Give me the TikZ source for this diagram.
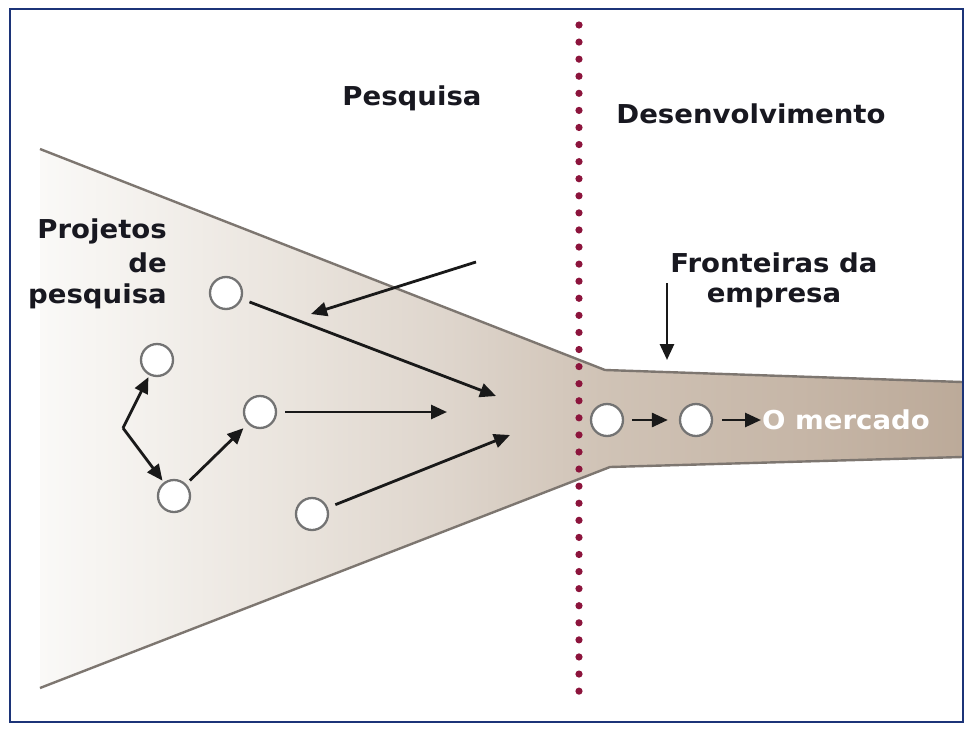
\documentclass[tikz,border=0pt]{standalone}
\usepackage{fontspec}
\setmainfont{DejaVu Sans}
\newfontfamily\lbl[FakeStretch=1.06]{DejaVu Sans}
\usetikzlibrary{arrows.meta}
\definecolor{c0}{RGB}{250,249,247}
\definecolor{c1}{RGB}{243,240,236}
\definecolor{c2}{RGB}{233,227,220}
\definecolor{c3}{RGB}{222,213,204}
\definecolor{c4}{RGB}{208,195,182}
\definecolor{c5}{RGB}{198,182,167}
\definecolor{c6}{RGB}{188,170,153}
\definecolor{edgegray}{RGB}{125,118,112}
\definecolor{framenavy}{RGB}{28,52,120}
\definecolor{dotred}{RGB}{140,20,60}
\definecolor{txt}{RGB}{24,24,32}
\definecolor{arrowc}{RGB}{25,25,25}
\definecolor{circgray}{RGB}{115,115,115}
\pgfdeclarehorizontalshading{funnelshade}{100bp}{color(0bp)=(c0); color(25bp)=(c0); color(31bp)=(c1); color(39.1bp)=(c2); color(47.2bp)=(c3); color(55.4bp)=(c4); color(66.2bp)=(c5); color(75bp)=(c6); color(100bp)=(c6)}
\tikzset{
  proj/.style={circle, draw=circgray, fill=white, line width=2.3pt, minimum size=32pt, inner sep=0pt},
  arr/.style={draw=arrowc, line width=2.8pt, -{Triangle[length=16pt,width=14pt]}},
  lab/.style={font=\lbl\bfseries\fontsize{26}{31}\selectfont, text=txt, inner sep=0pt},
  edge/.style={draw=edgegray, line width=2.4pt, line join=round}
}
\begin{document}
\begin{tikzpicture}[x=1pt,y=-1pt]
\useasboundingbox (0,0) rectangle (972,731);
\fill[white] (0,0) rectangle (972,731);
% funnel
\fill[shading=funnelshade] (40,149) -- (605,370) -- (962,382) -- (962,457) -- (610,467) -- (40,688) -- cycle;
\draw[edge] (40,149) -- (605,370) -- (962,382);
\draw[edge] (40,688) -- (610,467) -- (962,457);
% dotted border
\foreach \k in {0,...,39} \fill[dotred] (579,{25+17.08*\k}) circle (3.6pt);
% frame
\draw[framenavy, line width=2.6pt] (10,9) rectangle (963,722);
% texts
\node[lab, anchor=base] (pes) at (412,105) {Pesquisa};
\node[lab, anchor=base] (des) at (751,123) {Desenvolvimento};
\node[lab, anchor=base east] (pj1) at (167,238) {Projetos};
\node[lab, anchor=base east] (pj2) at (167,272) {de};
\node[lab, anchor=base east] (pj3) at (167,303) {pesquisa};
\node[lab, anchor=base] (fr1) at (774,272) {Fronteiras da};
\node[lab, anchor=base] (fr2) at (774,302) {empresa};
\node[lab, anchor=base west, text=white] (merc) at (762,429) {O mercado};
% project circles
\node[proj] (A) at (226,293) {};
\node[proj] (B) at (157,360) {};
\node[proj] (C) at (260,412) {};
\node[proj] (D) at (174,496) {};
\node[proj] (E) at (312,514) {};
\node[proj] (F) at (607,420) {};
\node[proj] (G) at (696,420) {};
% free ends
\coordinate (t1) at (496,396);
\coordinate (t2) at (447,412);
\coordinate (t3) at (510,435);
\coordinate (s1) at (476,262);
\coordinate (t4) at (311,314);
\coordinate (k) at (123,428);
\coordinate (s2) at (667,283);
\coordinate (t5) at (667,360);
% arrows
\draw[arr, shorten <=8pt] (A) -- (t1);
\draw[arr, shorten <=8pt] (C) -- (t2);
\draw[arr, shorten <=8pt] (E) -- (t3);
\draw[arr] (s1) -- (t4);
\draw[arr, shorten >=2pt] (k) -- (B);
\draw[arr, shorten >=2pt] (k) -- (D);
\draw[arr, shorten <=5pt, shorten >=6pt] (D) -- (C);
\draw[arr] (s2) -- (t5);
\draw[arr, shorten <=8pt, shorten >=11pt] (F) -- (G);
\draw[arr, shorten <=9pt, shorten >=1pt] (G) -- (G -| merc.west);
\end{tikzpicture}
\end{document}
